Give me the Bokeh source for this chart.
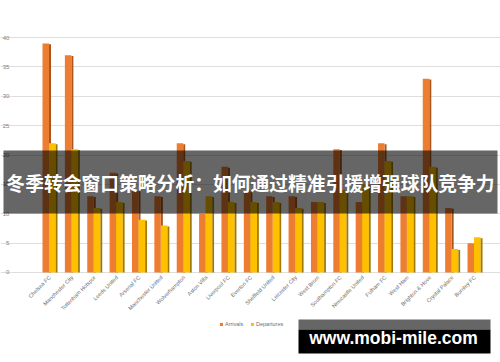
import numpy as np
from bokeh.plotting import figure
from bokeh.models import Range1d, FixedTicker, BoxAnnotation, Label, Legend, LegendItem
from bokeh.embed import file_html
from bokeh.resources import INLINE

# ---- data ----
clubs = ["Chelsea FC", "Manchester City", "Tottenham Hotspur", "Leeds United", "Arsenal FC",
         "Manchester United", "Wolverhampton", "Aston Villa", "Liverpool FC", "Everton FC",
         "Sheffield United", "Leicester City", "West Brom", "Southampton FC", "Newcastle United",
         "Fulham FC", "West Ham", "Brighton & Hove", "Crystal Palace", "Burnley FC"]
arrivals = [39, 37, 13, 17, 14, 13, 22, 10, 18, 14, 13, 13, 12, 21, 12, 22, 13, 33, 11, 5]
departures = [22, 21, 11, 12, 9, 8, 19, 13, 12, 12, 12, 11, 12, 14, 15, 19, 13, 18, 4, 6]
y_ticks = [0, 5, 10, 15, 20, 25, 30, 35, 40]
series_names = ["Arrivals", "Departures"]
title_text = "冬季转会窗口策略分析：如何通过精准引援增强球队竞争力"
watermark_text = "www.mobi-mile.com"

W, H = 500, 362
idx = np.arange(len(clubs))

# frame covers the whole canvas; axes are drawn at fixed locations inside it
p = figure(width=W, height=H, output_backend="svg", toolbar_location=None,
           x_range=Range1d(-2.208, 20.144), y_range=Range1d(-15.32, 46.30),
           min_border_left=0, min_border_right=0, min_border_top=0, min_border_bottom=0)
p.outline_line_color = None
p.background_fill_color = "white"
p.border_fill_color = "white"

ORANGE = "#ED7D31"
ORANGE_SIDE = "#A9561F"
YELLOW = "#FFC000"
YELLOW_SIDE = "#9E7A00"

arr_side = [v - 0.15 for v in arrivals]
dep_side = [v - 0.15 for v in departures]

p.quad(left=idx - 0.04, right=idx + 0.05, bottom=0, top=arr_side,
       fill_color=ORANGE_SIDE, line_color=None)
orange = p.quad(left=idx - 0.33, right=idx - 0.04, bottom=0, top=arrivals,
                fill_color=ORANGE, line_color=None)
yellow = p.quad(left=idx - 0.04, right=idx + 0.26, bottom=0, top=departures,
                fill_color=YELLOW, line_color=None)
p.quad(left=idx + 0.26, right=idx + 0.34, bottom=0, top=dep_side,
       fill_color=YELLOW_SIDE, line_color=None)

# x axis at y = 0
xa = p.xaxis[0]
xa.fixed_location = 0
xa.ticker = FixedTicker(ticks=list(idx))
xa.major_label_overrides = {int(i): c for i, c in zip(idx, clubs)}
xa.major_label_orientation = np.pi / 4
xa.major_label_text_font_size = "5.5px"
xa.major_label_text_color = "#6E6E6E"
xa.major_label_text_font = "Liberation Sans"
xa.major_label_standoff = 4
xa.axis_line_color = None
xa.major_tick_line_color = None
xa.minor_tick_line_color = None
xa.major_tick_out = 0
xa.major_tick_in = 0

# y axis at left edge of the gridlines
ya = p.yaxis[0]
ya.fixed_location = -1.45
ya.ticker = FixedTicker(ticks=y_ticks)
ya.major_label_text_font_size = "6px"
ya.major_label_text_color = "#7F7F7F"
ya.major_label_text_font = "Liberation Sans"
ya.major_label_standoff = 8
ya.axis_line_color = None
ya.major_tick_line_color = None
ya.minor_tick_line_color = None
ya.major_tick_out = 0
ya.major_tick_in = 0

p.xgrid.grid_line_color = None
p.ygrid.grid_line_color = "#DEDEDE"
p.ygrid.ticker = FixedTicker(ticks=y_ticks)
p.ygrid.bounds = (-1.45, 19.56)

legend = Legend(items=[LegendItem(label=series_names[0], renderers=[orange]),
                       LegendItem(label=series_names[1], renderers=[yellow])],
                orientation="horizontal", location=(219, 35),
                glyph_width=4, glyph_height=4, label_text_font_size="5.5px",
                label_text_color="#6E6E6E", label_text_font="Liberation Sans",
                label_standoff=2, spacing=5, padding=1, margin=0,
                background_fill_alpha=0, border_line_color=None, label_height=6)
p.add_layout(legend, "center")

# overlay banner (screen units measured from the frame's bottom-left corner)
p.add_layout(BoxAnnotation(left=3, right=497, top=212, bottom=149,
                           left_units="screen", right_units="screen",
                           top_units="screen", bottom_units="screen",
                           fill_color="black", fill_alpha=0.6, line_color=None))
p.add_layout(Label(x=250, y=180, x_units="screen", y_units="screen", text=title_text,
                   text_font="Noto Sans CJK SC", text_font_size="18.8px", text_font_style="bold",
                   text_color="white", text_align="center", text_baseline="middle"))

# watermark
p.add_layout(BoxAnnotation(left=298, right=490, top=43, bottom=33,
                           left_units="screen", right_units="screen",
                           top_units="screen", bottom_units="screen",
                           fill_color="#666666", fill_alpha=1, line_color=None))
p.add_layout(BoxAnnotation(left=298, right=490, top=33, bottom=9,
                           left_units="screen", right_units="screen",
                           top_units="screen", bottom_units="screen",
                           fill_color="black", fill_alpha=1, line_color=None))
p.add_layout(Label(x=393, y=25, x_units="screen", y_units="screen", text=watermark_text,
                   text_font="Liberation Sans", text_font_size="17.5px", text_font_style="bold",
                   text_color="white", text_align="center", text_baseline="middle"))

open("out.html", "w").write(file_html(p, INLINE))
